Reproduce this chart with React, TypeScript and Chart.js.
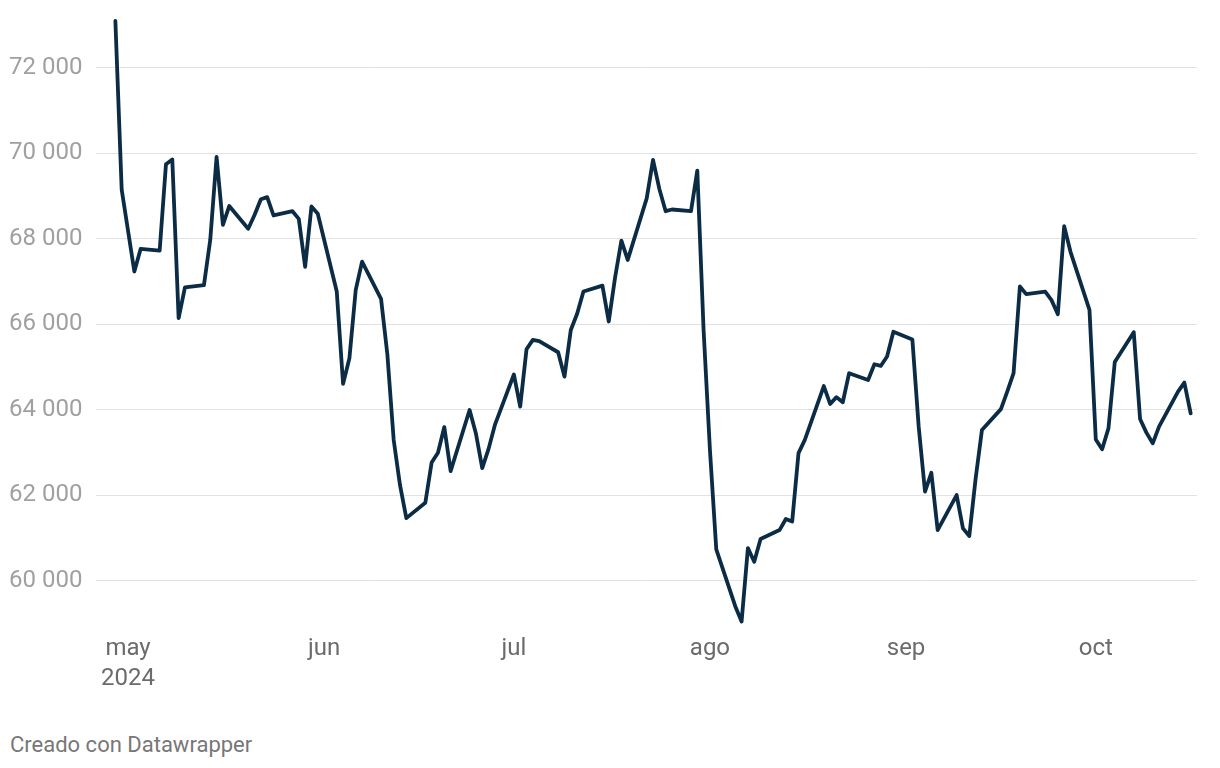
import React, { useEffect, useRef } from "react";
import { Chart, registerables } from "chart.js";

Chart.register(...registerables);

const dates: string[] = [
  "2024-04-29", "2024-04-30", "2024-05-02", "2024-05-03",
  "2024-05-06", "2024-05-07", "2024-05-08", "2024-05-09", "2024-05-10",
  "2024-05-13", "2024-05-14", "2024-05-15", "2024-05-16", "2024-05-17",
  "2024-05-20", "2024-05-21", "2024-05-22", "2024-05-23", "2024-05-24",
  "2024-05-27", "2024-05-28", "2024-05-29", "2024-05-30", "2024-05-31",
  "2024-06-03", "2024-06-04", "2024-06-05", "2024-06-06", "2024-06-07",
  "2024-06-10", "2024-06-11", "2024-06-12", "2024-06-13", "2024-06-14",
  "2024-06-17", "2024-06-18", "2024-06-19", "2024-06-20", "2024-06-21",
  "2024-06-24", "2024-06-25", "2024-06-26", "2024-06-27", "2024-06-28",
  "2024-07-01", "2024-07-02", "2024-07-03", "2024-07-04", "2024-07-05",
  "2024-07-08", "2024-07-09", "2024-07-10", "2024-07-11", "2024-07-12",
  "2024-07-15", "2024-07-16", "2024-07-17", "2024-07-18", "2024-07-19",
  "2024-07-22", "2024-07-23", "2024-07-24", "2024-07-25", "2024-07-26",
  "2024-07-29", "2024-07-30", "2024-07-31", "2024-08-01", "2024-08-02",
  "2024-08-05", "2024-08-06", "2024-08-07", "2024-08-08", "2024-08-09",
  "2024-08-12", "2024-08-13", "2024-08-14", "2024-08-15", "2024-08-16",
  "2024-08-19", "2024-08-20", "2024-08-21", "2024-08-22", "2024-08-23",
  "2024-08-26", "2024-08-27", "2024-08-28", "2024-08-29", "2024-08-30",
  "2024-09-02", "2024-09-03", "2024-09-04", "2024-09-05", "2024-09-06",
  "2024-09-09", "2024-09-10", "2024-09-11", "2024-09-12", "2024-09-13",
  "2024-09-16", "2024-09-17", "2024-09-18", "2024-09-19", "2024-09-20",
  "2024-09-23", "2024-09-24", "2024-09-25", "2024-09-26", "2024-09-27",
  "2024-09-30", "2024-10-01", "2024-10-02", "2024-10-03", "2024-10-04",
  "2024-10-07", "2024-10-08", "2024-10-09", "2024-10-10", "2024-10-11",
  "2024-10-14", "2024-10-15", "2024-10-16",
];

const values: number[] = [
  73100, 69150, 67240, 67770,
  67730, 69750, 69860, 66150, 66870,
  66920, 67980, 69920, 68330, 68770,
  68240, 68560, 68930, 68980, 68550,
  68650, 68470, 67350, 68760, 68590,
  66770, 64610, 65210, 66810, 67470,
  66600, 65300, 63300, 62240, 61470,
  61830, 62770, 63000, 63600, 62570,
  64000, 63450, 62640, 63090, 63650,
  64830, 64080, 65420, 65640, 65610,
  65350, 64780, 65870, 66250, 66770,
  66910, 66070, 67100, 67960, 67510,
  68950, 69850, 69170, 68650, 68690,
  68650, 69600, 65850, 63060, 60740,
  59410, 59050, 60770, 60450, 60980,
  61190, 61450, 61390, 62990, 63300,
  64560, 64140, 64300, 64180, 64860,
  64700, 65070, 65030, 65250, 65830,
  65650, 63610, 62090, 62530, 61190,
  62010, 61230, 61050, 62390, 63530,
  64020, 64430, 64860, 66890, 66710,
  66770, 66570, 66240, 68300, 67700,
  66340, 63310, 63080, 63570, 65120,
  65820, 63790, 63470, 63220, 63610,
  64430, 64640, 63920,
];

const monthStarts: string[] = ["2024-05-01", "2024-06-01", "2024-07-01", "2024-08-01", "2024-09-01", "2024-10-01"];
const monthLabels: (string | string[])[] = [["may", "2024"], "jun", "jul", "ago", "sep", "oct"];
const yTicks: number[] = [60000, 62000, 64000, 66000, 68000, 70000, 72000];

const ORIGIN = Date.UTC(2024, 4, 1);
const dayOf = (s: string) => (new Date(s + "T00:00:00Z").getTime() - ORIGIN) / 86400000;

const fmt = (v: number) => {
  const th = Math.floor(v / 1000);
  const rest = String(Math.round(v % 1000)).padStart(3, "0");
  return th + " " + rest;
};

export default function App() {
  const ref = useRef<HTMLCanvasElement | null>(null);

  useEffect(() => {
    if (!ref.current) return;
    const points = dates.map((d, i) => ({ x: dayOf(d), y: values[i] }));
    const monthDays = monthStarts.map(dayOf);

    const chart = new Chart(ref.current, {
      type: "line",
      data: {
        datasets: [
          {
            data: points,
            borderColor: "#0b2c44",
            borderWidth: 3.8,
            pointRadius: 0,
            tension: 0,
            borderJoinStyle: "round",
            borderCapStyle: "round",
            clip: false as any,
          },
        ],
      },
      options: {
        animation: false,
        responsive: false,
        layout: { padding: { top: 16.7, right: 23, left: 0, bottom: 0 } },
        plugins: { legend: { display: false }, tooltip: { enabled: false } },
        scales: {
          x: {
            type: "linear",
            min: -5,
            max: 169,
            grid: { display: false, drawTicks: false },
            border: { display: false },
            afterFit: (s: any) => {
              s.height = 96.3;
              s.paddingLeft = 0;
              s.paddingRight = 0;
            },
            afterBuildTicks: (s: any) => {
              s.ticks = monthDays.map((v) => ({ value: v }));
            },
            ticks: {
              autoSkip: false,
              maxRotation: 0,
              padding: 10,
              color: "#6b6b6b",
              font: { family: "Roboto", size: 24, lineHeight: 1.25 },
              callback: (v: any) => {
                const i = monthDays.indexOf(Number(v));
                return i >= 0 ? monthLabels[i] : "";
              },
            },
          },
          y: {
            type: "linear",
            min: 59000,
            max: 73200,
            grid: { color: "#e2e2e2", lineWidth: 1, drawTicks: false },
            border: { display: false },
            afterFit: (s: any) => {
              s.width = 96.4;
              s.paddingTop = 0;
              s.paddingBottom = 0;
            },
            afterBuildTicks: (s: any) => {
              s.ticks = yTicks.map((v) => ({ value: v }));
            },
            ticks: {
              padding: 14,
              color: "#a0a0a0",
              font: { family: "Roboto", size: 24 },
              callback: (v: any) => fmt(Number(v)),
            },
          },
        },
      },
    });
    return () => chart.destroy();
  }, []);

  return (
    <div style={{ position: "fixed", left: 0, top: 0, width: 1220, height: 768, background: "#ffffff" }}>
      <canvas ref={ref} width={1220} height={720} style={{ width: 1220, height: 720, display: "block" }} />
      <div
        style={{
          position: "absolute",
          left: 10,
          top: 731,
          fontFamily: "Roboto",
          fontSize: 22,
          color: "#777777",
          lineHeight: "28px",
          whiteSpace: "nowrap",
        }}
      >
        Creado con Datawrapper
      </div>
    </div>
  );
}
